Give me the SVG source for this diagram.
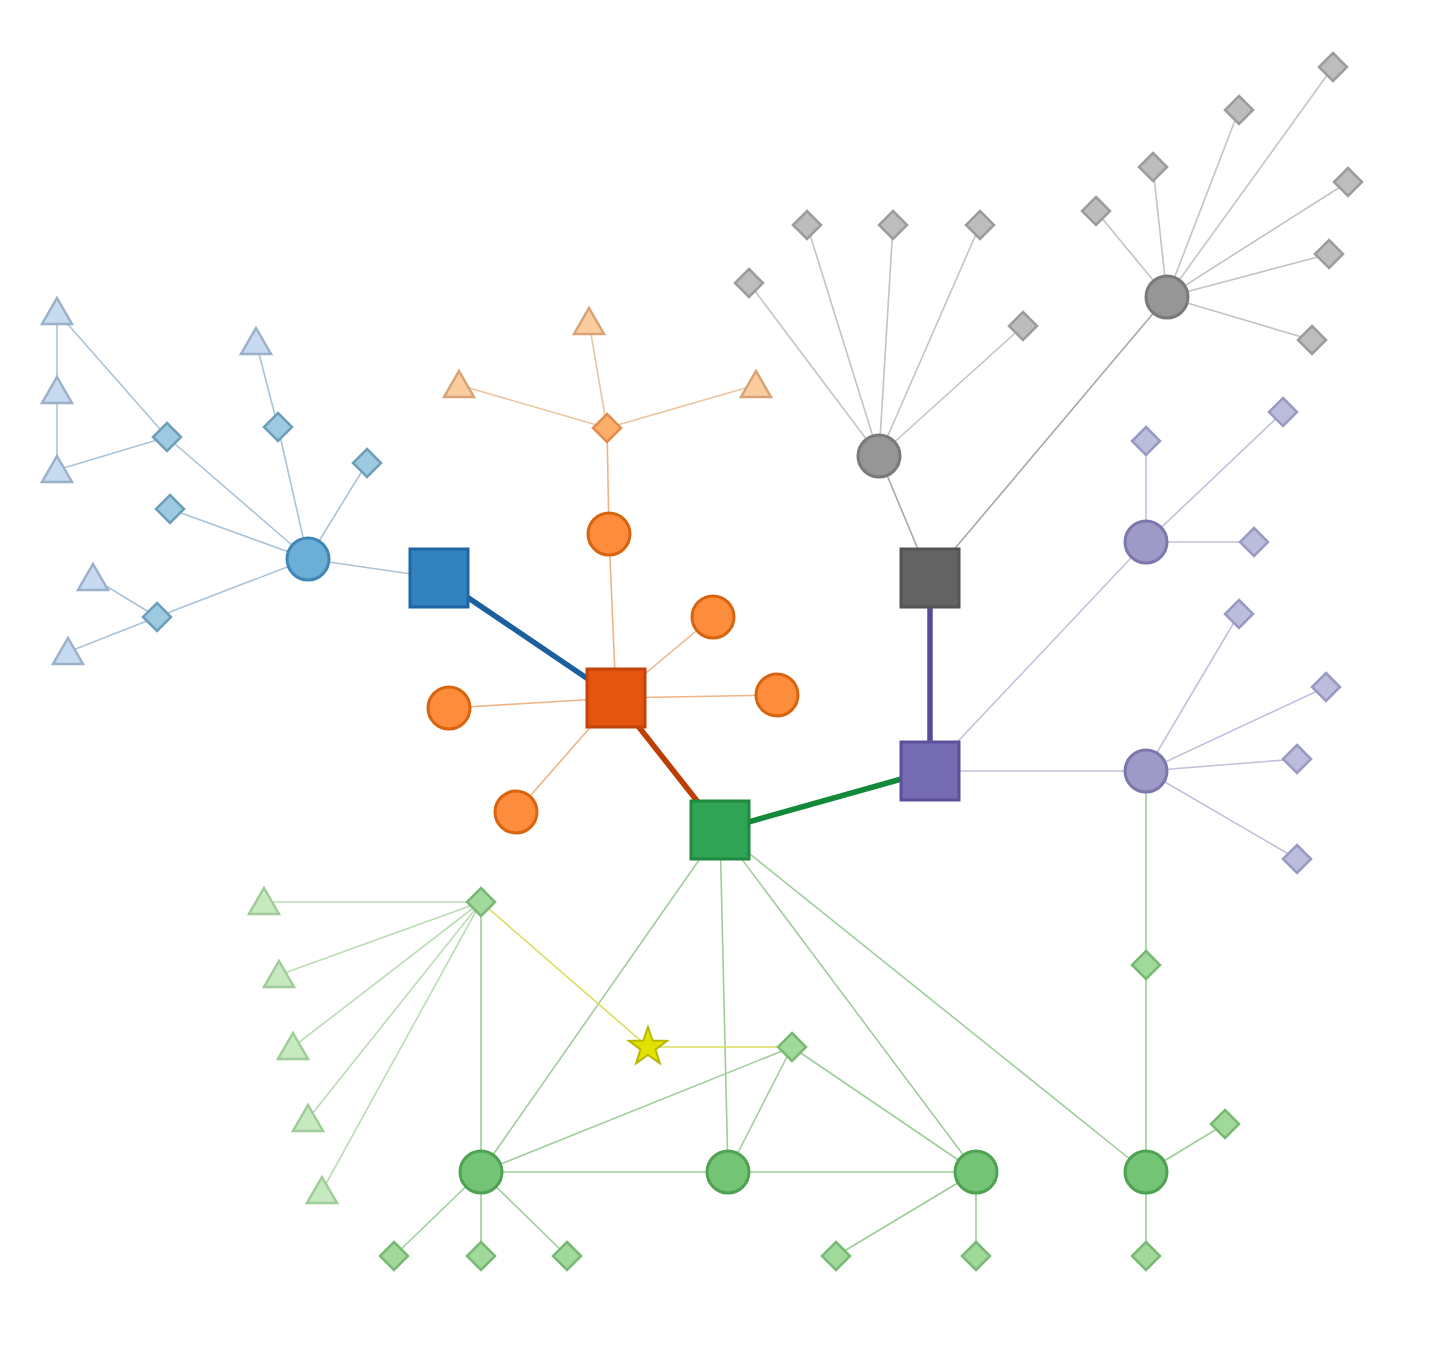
<svg xmlns="http://www.w3.org/2000/svg" xmlns:xlink="http://www.w3.org/1999/xlink" width="1441" height="1350" viewBox="0 0 1441 1350">
<style>
.e{fill:none;stroke-width:1.6}
.eb{stroke:#abc3d6}.eo{stroke:#efb486}.eot{stroke:#ebc5a0}.eg{stroke:#9fcd9b}.egt{stroke:#bcdcb5}.ek{stroke:#c4c4c4}.ep{stroke:#c3c0dd}.ey{stroke:#dcdc60}
.ek2{stroke:#a8a8a8}
.t{fill:none;stroke-width:5.5}
.sq{stroke-width:3}
.n{stroke-width:3}
.nd{stroke-width:2.5}
.nt{stroke-width:2.5}
.b1{fill:#3182bd;stroke:#1f66a6}.b2{fill:#6baed6;stroke:#3f86b6}.b3{fill:#9ecae1;stroke:#6e9fba}.b4{fill:#c6dbef;stroke:#9bb1c9}
.o1{fill:#e6550d;stroke:#c2440a}.o2{fill:#fd8d3c;stroke:#d9640f}.o3{fill:#fdae6b;stroke:#e68c4c}.o4{fill:#fbcc9c;stroke:#d6a476}
.g1{fill:#31a354;stroke:#1f8a3f}.g2{fill:#74c476;stroke:#4fa251}.g3{fill:#a1d99b;stroke:#77b972}.g4{fill:#c7e9c0;stroke:#9fcc98}
.k1{fill:#636363;stroke:#555555}.k2{fill:#969696;stroke:#7a7a7a}.k3{fill:#bdbdbd;stroke:#9c9c9c}
.p1{fill:#756bb1;stroke:#5c509c}.p2{fill:#9e9ac8;stroke:#7d77ad}.p3{fill:#bcbddc;stroke:#999ac4}
.y{fill:#e2e200;stroke:#b8b800;stroke-width:2}
</style>
<defs>
<path id="dia" d="M0,-14 L14,0 L0,14 L-14,0Z"/>
<path id="tri" d="M0,-14 L15,12 L-15,12Z"/>
<rect id="sq" x="-29" y="-29" width="58" height="58"/>
<circle id="ci" r="21"/>
<path id="starShape" d="M0,-20 L4.70,-6.47 L19.02,-6.18 L7.61,2.47 L11.76,16.18 L0,8 L-11.76,16.18 L-7.61,2.47 L-19.02,-6.18 L-4.70,-6.47Z"/>
</defs>
<g id="connectors">
<g class="e eb">
<line x1="308" y1="559" x2="439" y2="578"/>
<line x1="308" y1="559" x2="167" y2="437"/>
<line x1="308" y1="559" x2="278" y2="427"/>
<line x1="308" y1="559" x2="367" y2="463"/>
<line x1="308" y1="559" x2="170" y2="509"/>
<line x1="308" y1="559" x2="157" y2="617"/>
<line x1="167" y1="437" x2="57" y2="312"/>
<line x1="167" y1="437" x2="57" y2="470"/>
<line x1="57" y1="312" x2="57" y2="470"/>
<line x1="278" y1="427" x2="256" y2="342"/>
<line x1="157" y1="617" x2="93" y2="578"/>
<line x1="157" y1="617" x2="68" y2="652"/>
</g>
<g class="e eo">
<line x1="616" y1="698" x2="609" y2="534"/>
<line x1="616" y1="698" x2="713" y2="617"/>
<line x1="616" y1="698" x2="777" y2="695"/>
<line x1="616" y1="698" x2="449" y2="708"/>
<line x1="616" y1="698" x2="516" y2="812"/>
<line x1="609" y1="534" x2="607" y2="428"/>
</g>
<g class="e eot">
<line x1="607" y1="428" x2="589" y2="322"/>
<line x1="607" y1="428" x2="459" y2="385"/>
<line x1="607" y1="428" x2="756" y2="385"/>
</g>
<g class="e ek">
<line x1="879" y1="456" x2="749" y2="283"/>
<line x1="879" y1="456" x2="807" y2="225"/>
<line x1="879" y1="456" x2="893" y2="225"/>
<line x1="879" y1="456" x2="980" y2="225"/>
<line x1="879" y1="456" x2="1023" y2="326"/>
<line x1="1167" y1="297" x2="1096" y2="211"/>
<line x1="1167" y1="297" x2="1153" y2="167"/>
<line x1="1167" y1="297" x2="1239" y2="110"/>
<line x1="1167" y1="297" x2="1333" y2="67"/>
<line x1="1167" y1="297" x2="1348" y2="182"/>
<line x1="1167" y1="297" x2="1329" y2="254"/>
<line x1="1167" y1="297" x2="1312" y2="340"/>
</g>
<g class="e ek2">
<line x1="930" y1="578" x2="879" y2="456"/>
<line x1="930" y1="578" x2="1167" y2="297"/>
</g>
<g class="e ep">
<line x1="930" y1="771" x2="1146" y2="542"/>
<line x1="930" y1="771" x2="1146" y2="771"/>
<line x1="1146" y1="542" x2="1146" y2="441"/>
<line x1="1146" y1="542" x2="1283" y2="412"/>
<line x1="1146" y1="542" x2="1254" y2="542"/>
<line x1="1146" y1="771" x2="1239" y2="614"/>
<line x1="1146" y1="771" x2="1326" y2="687"/>
<line x1="1146" y1="771" x2="1297" y2="759"/>
<line x1="1146" y1="771" x2="1297" y2="859"/>
</g>
<g class="e eg">
<line x1="1146" y1="771" x2="1146" y2="965"/>
<line x1="1146" y1="965" x2="1146" y2="1172"/>
<line x1="720" y1="830" x2="481" y2="1172"/>
<line x1="720" y1="830" x2="728" y2="1172"/>
<line x1="720" y1="830" x2="976" y2="1172"/>
<line x1="720" y1="830" x2="1146" y2="1172"/>
<line x1="481" y1="902" x2="481" y2="1172"/>
<line x1="792" y1="1047" x2="481" y2="1172"/>
<line x1="792" y1="1047" x2="728" y2="1172"/>
<line x1="792" y1="1047" x2="976" y2="1172"/>
<line x1="481" y1="1172" x2="976" y2="1172"/>
<line x1="481" y1="1172" x2="394" y2="1256"/>
<line x1="481" y1="1172" x2="481" y2="1256"/>
<line x1="481" y1="1172" x2="567" y2="1256"/>
<line x1="976" y1="1172" x2="836" y2="1256"/>
<line x1="976" y1="1172" x2="976" y2="1256"/>
<line x1="1146" y1="1172" x2="1225" y2="1124"/>
<line x1="1146" y1="1172" x2="1146" y2="1256"/>
</g>
<g class="e egt">
<line x1="481" y1="902" x2="264" y2="902"/>
<line x1="481" y1="902" x2="279" y2="975"/>
<line x1="481" y1="902" x2="293" y2="1047"/>
<line x1="481" y1="902" x2="308" y2="1119"/>
<line x1="481" y1="902" x2="322" y2="1191"/>
</g>
<g class="e ey">
<line x1="481" y1="902" x2="648" y2="1047"/>
<line x1="648" y1="1047" x2="792" y2="1047"/>
</g>
<line class="t" stroke="#1a5f9e" x1="439" y1="578" x2="616" y2="698"/>
<line class="t" stroke="#bd3e02" x1="616" y1="698" x2="720" y2="830"/>
<line class="t" stroke="#138a3a" x1="720" y1="830" x2="930" y2="771"/>
<line class="t" stroke="#554c99" x1="930" y1="578" x2="930" y2="771"/>
</g>
<g id="blue-square"><use href="#sq" class="b1 sq" transform="translate(439,578)"/></g>
<g id="blue-circle"><use href="#ci" class="b2 n" transform="translate(308,559)"/></g>
<g id="blue-d1"><use href="#dia" class="b3 nd" transform="translate(167,437)"/></g>
<g id="blue-d2"><use href="#dia" class="b3 nd" transform="translate(278,427)"/></g>
<g id="blue-d3"><use href="#dia" class="b3 nd" transform="translate(367,463)"/></g>
<g id="blue-d4"><use href="#dia" class="b3 nd" transform="translate(170,509)"/></g>
<g id="blue-d5"><use href="#dia" class="b3 nd" transform="translate(157,617)"/></g>
<g id="blue-t1"><use href="#tri" class="b4 nt" transform="translate(57,312)"/></g>
<g id="blue-t2"><use href="#tri" class="b4 nt" transform="translate(57,391)"/></g>
<g id="blue-t3"><use href="#tri" class="b4 nt" transform="translate(57,470)"/></g>
<g id="blue-t4"><use href="#tri" class="b4 nt" transform="translate(256,342)"/></g>
<g id="blue-t5"><use href="#tri" class="b4 nt" transform="translate(93,578)"/></g>
<g id="blue-t6"><use href="#tri" class="b4 nt" transform="translate(68,652)"/></g>
<g id="orange-square"><use href="#sq" class="o1 sq" transform="translate(616,698)"/></g>
<g id="orange-c1"><use href="#ci" class="o2 n" transform="translate(609,534)"/></g>
<g id="orange-c2"><use href="#ci" class="o2 n" transform="translate(713,617)"/></g>
<g id="orange-c3"><use href="#ci" class="o2 n" transform="translate(777,695)"/></g>
<g id="orange-c4"><use href="#ci" class="o2 n" transform="translate(449,708)"/></g>
<g id="orange-c5"><use href="#ci" class="o2 n" transform="translate(516,812)"/></g>
<g id="orange-d1"><use href="#dia" class="o3 nd" transform="translate(607,428)"/></g>
<g id="orange-t1"><use href="#tri" class="o4 nt" transform="translate(589,322)"/></g>
<g id="orange-t2"><use href="#tri" class="o4 nt" transform="translate(459,385)"/></g>
<g id="orange-t3"><use href="#tri" class="o4 nt" transform="translate(756,385)"/></g>
<g id="gray-square"><use href="#sq" class="k1 sq" transform="translate(930,578)"/></g>
<g id="gray-c1"><use href="#ci" class="k2 n" transform="translate(879,456)"/></g>
<g id="gray-c2"><use href="#ci" class="k2 n" transform="translate(1167,297)"/></g>
<g id="gray-d1"><use href="#dia" class="k3 nd" transform="translate(749,283)"/></g>
<g id="gray-d2"><use href="#dia" class="k3 nd" transform="translate(807,225)"/></g>
<g id="gray-d3"><use href="#dia" class="k3 nd" transform="translate(893,225)"/></g>
<g id="gray-d4"><use href="#dia" class="k3 nd" transform="translate(980,225)"/></g>
<g id="gray-d5"><use href="#dia" class="k3 nd" transform="translate(1023,326)"/></g>
<g id="gray-d6"><use href="#dia" class="k3 nd" transform="translate(1096,211)"/></g>
<g id="gray-d7"><use href="#dia" class="k3 nd" transform="translate(1153,167)"/></g>
<g id="gray-d8"><use href="#dia" class="k3 nd" transform="translate(1239,110)"/></g>
<g id="gray-d9"><use href="#dia" class="k3 nd" transform="translate(1333,67)"/></g>
<g id="gray-d10"><use href="#dia" class="k3 nd" transform="translate(1348,182)"/></g>
<g id="gray-d11"><use href="#dia" class="k3 nd" transform="translate(1329,254)"/></g>
<g id="gray-d12"><use href="#dia" class="k3 nd" transform="translate(1312,340)"/></g>
<g id="purple-square"><use href="#sq" class="p1 sq" transform="translate(930,771)"/></g>
<g id="purple-c1"><use href="#ci" class="p2 n" transform="translate(1146,542)"/></g>
<g id="purple-c2"><use href="#ci" class="p2 n" transform="translate(1146,771)"/></g>
<g id="purple-d1"><use href="#dia" class="p3 nd" transform="translate(1146,441)"/></g>
<g id="purple-d2"><use href="#dia" class="p3 nd" transform="translate(1283,412)"/></g>
<g id="purple-d3"><use href="#dia" class="p3 nd" transform="translate(1254,542)"/></g>
<g id="purple-d4"><use href="#dia" class="p3 nd" transform="translate(1239,614)"/></g>
<g id="purple-d5"><use href="#dia" class="p3 nd" transform="translate(1326,687)"/></g>
<g id="purple-d6"><use href="#dia" class="p3 nd" transform="translate(1297,759)"/></g>
<g id="purple-d7"><use href="#dia" class="p3 nd" transform="translate(1297,859)"/></g>
<g id="green-square"><use href="#sq" class="g1 sq" transform="translate(720,830)"/></g>
<g id="green-c1"><use href="#ci" class="g2 n" transform="translate(481,1172)"/></g>
<g id="green-c2"><use href="#ci" class="g2 n" transform="translate(728,1172)"/></g>
<g id="green-c3"><use href="#ci" class="g2 n" transform="translate(976,1172)"/></g>
<g id="green-c4"><use href="#ci" class="g2 n" transform="translate(1146,1172)"/></g>
<g id="green-d1"><use href="#dia" class="g3 nd" transform="translate(481,902)"/></g>
<g id="green-d2"><use href="#dia" class="g3 nd" transform="translate(792,1047)"/></g>
<g id="green-d3"><use href="#dia" class="g3 nd" transform="translate(1146,965)"/></g>
<g id="green-d4"><use href="#dia" class="g3 nd" transform="translate(1225,1124)"/></g>
<g id="green-d5"><use href="#dia" class="g3 nd" transform="translate(394,1256)"/></g>
<g id="green-d6"><use href="#dia" class="g3 nd" transform="translate(481,1256)"/></g>
<g id="green-d7"><use href="#dia" class="g3 nd" transform="translate(567,1256)"/></g>
<g id="green-d8"><use href="#dia" class="g3 nd" transform="translate(836,1256)"/></g>
<g id="green-d9"><use href="#dia" class="g3 nd" transform="translate(976,1256)"/></g>
<g id="green-d10"><use href="#dia" class="g3 nd" transform="translate(1146,1256)"/></g>
<g id="green-t1"><use href="#tri" class="g4 nt" transform="translate(264,902)"/></g>
<g id="green-t2"><use href="#tri" class="g4 nt" transform="translate(279,975)"/></g>
<g id="green-t3"><use href="#tri" class="g4 nt" transform="translate(293,1047)"/></g>
<g id="green-t4"><use href="#tri" class="g4 nt" transform="translate(308,1119)"/></g>
<g id="green-t5"><use href="#tri" class="g4 nt" transform="translate(322,1191)"/></g>
<g id="star-node"><use href="#starShape" class="y" transform="translate(648,1047)"/></g>
</svg>
